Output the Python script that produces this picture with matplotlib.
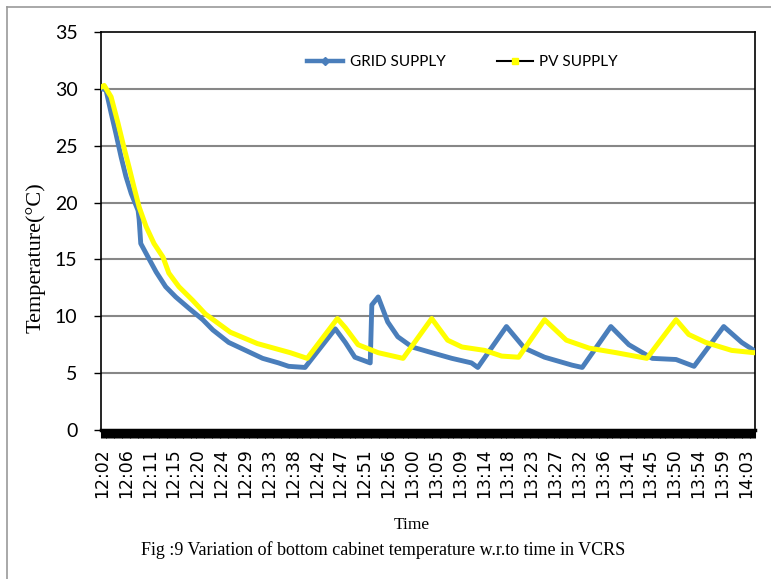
import matplotlib
matplotlib.use("Agg")
import matplotlib.pyplot as plt
from matplotlib.lines import Line2D

# time in minutes after 12:02
grid_t = [0, 0.75, 1.7, 2.6, 3.6, 4.5, 5.5, 6.8, 7.0, 7.3, 8.8, 10.2, 12.0, 13.9, 16.4,
          19.0, 20.9, 23.9, 27.1, 30.3, 33.3, 35.2, 38.3, 44.0, 45.9, 47.7, 50.6, 50.9,
          52.1, 53.9, 55.8, 58.5, 62.2, 66.0, 69.7, 70.9, 76.3, 79.7, 83.5, 88.7, 90.6,
          96.0, 99.4, 103.8, 108.3, 111.7, 117.3, 120.7, 123.0]
grid_v = [30.0, 29.9, 27.9, 26.1, 24.0, 22.3, 20.8, 19.3, 18.5, 16.4, 15.1, 13.9, 12.6, 11.7, 10.7,
          9.7, 8.8, 7.7, 7.0, 6.3, 5.9, 5.6, 5.5, 8.9, 7.7, 6.4, 5.9, 11.0,
          11.7, 9.5, 8.2, 7.3, 6.8, 6.3, 5.9, 5.5, 9.1, 7.2, 6.4, 5.7, 5.5,
          9.1, 7.5, 6.3, 6.2, 5.6, 9.1, 7.7, 7.0]

pv_t = [0, 0.4, 1.7, 3.0, 4.1, 5.1, 6.0, 7.0, 8.3, 9.8, 11.5, 12.6, 14.5, 17.1, 19.5,
        24.2, 29.3, 35.5, 38.7, 44.4, 45.9, 48.3, 52.1, 56.8, 62.2, 65.2, 67.9, 72.2,
        75.4, 78.6, 83.5, 87.6, 91.9, 97.0, 102.8, 108.3, 110.7, 113.9, 118.8, 123.0]
pv_v = [30.2, 30.3, 29.3, 27.0, 24.9, 23.1, 21.4, 19.6, 17.9, 16.4, 15.2, 13.8, 12.6, 11.4, 10.2,
        8.6, 7.6, 6.8, 6.3, 9.8, 9.0, 7.5, 6.8, 6.3, 9.8, 7.9, 7.3, 7.0,
        6.5, 6.4, 9.7, 7.9, 7.2, 6.8, 6.3, 9.7, 8.4, 7.7, 7.0, 6.8]

tick_labels = ["12:02", "12:06", "12:11", "12:15", "12:20", "12:24", "12:29", "12:33",
               "12:38", "12:42", "12:47", "12:51", "12:56", "13:00", "13:05", "13:09",
               "13:14", "13:18", "13:23", "13:27", "13:32", "13:36", "13:41", "13:45",
               "13:50", "13:54", "13:59", "14:03"]
tick_step = 4.5
yticks = [0, 5, 10, 15, 20, 25, 30, 35]

sans = ['Lato', 'DejaVu Sans']
serif = ['Liberation Serif', 'DejaVu Serif']

fig = plt.figure(figsize=(7.71, 5.79), dpi=100)
ax = fig.add_axes([101/771, 1-430/579, (755-101)/771, (430-32)/579])

blue = '#4a7ebb'
yellow = '#ffff00'
ax.plot(grid_t, grid_v, color=blue, lw=3.5, solid_joinstyle='round', zorder=3)
ax.plot(pv_t, pv_v, color=yellow, lw=3.6, solid_joinstyle='round', zorder=4)

ax.set_xlim(-0.2, 123.2)
ax.set_ylim(0, 35)
ax.set_yticks(yticks)
ax.set_yticklabels([str(v) for v in yticks], family=sans, fontsize=14)
for y in yticks[1:-1]:
    ax.axhline(y, color='#878787', lw=1.5, zorder=1)

xt = [i*tick_step for i in range(len(tick_labels))]
ax.set_xticks(xt)
ax.set_xticklabels(tick_labels, rotation=90, family='DejaVu Sans', fontsize=12.5)
ax.set_xticks([i*0.5 for i in range(int(123/0.5)+1)], minor=True)
ax.tick_params(axis='x', which='both', length=6, width=2.2, color='black', pad=7)
ax.tick_params(axis='y', length=5, width=1, pad=12)

for s in ['top', 'right', 'left']:
    ax.spines[s].set_linewidth(1.2)
    ax.spines[s].set_color('black')
ax.spines['bottom'].set_linewidth(2.5)

fig.text(36/771, 1-258/579, 'Temperature(°C)', rotation=90, ha='center', va='center',
         family=serif, fontsize=16)
fig.text(412/771, 1-525/579, 'Time', ha='center', va='center', family=serif, fontsize=12.5)

handles = [Line2D([], [], color=blue, lw=3.2, marker='D', markersize=4,
                  markerfacecolor=blue, markeredgecolor=blue),
           Line2D([], [], color='black', lw=1.5, marker='s', markersize=4,
                  markerfacecolor=yellow, markeredgecolor=yellow)]
leg = ax.legend(handles, ['GRID SUPPLY', 'PV SUPPLY'], loc='center',
                bbox_to_anchor=(0.553, 0.925), ncol=2, frameon=False,
                prop={'family': sans, 'size': 11}, columnspacing=3.4,
                handlelength=2.35, handletextpad=0.4, borderpad=0, borderaxespad=0)

fig.text(383/771, 1-550/579, 'Fig :9 Variation of bottom cabinet temperature w.r.to time in VCRS',
         ha='center', va='center', family=serif, fontsize=13)

# outer frame lines (top and left)
fig.add_artist(Line2D([7/771, 1], [1-6.5/579, 1-6.5/579], color='#9a9a9a', lw=1.2))
fig.add_artist(Line2D([7/771, 7/771], [0, 1-6.5/579], color='#9a9a9a', lw=1.2))

fig.savefig('out.png', dpi=100)
